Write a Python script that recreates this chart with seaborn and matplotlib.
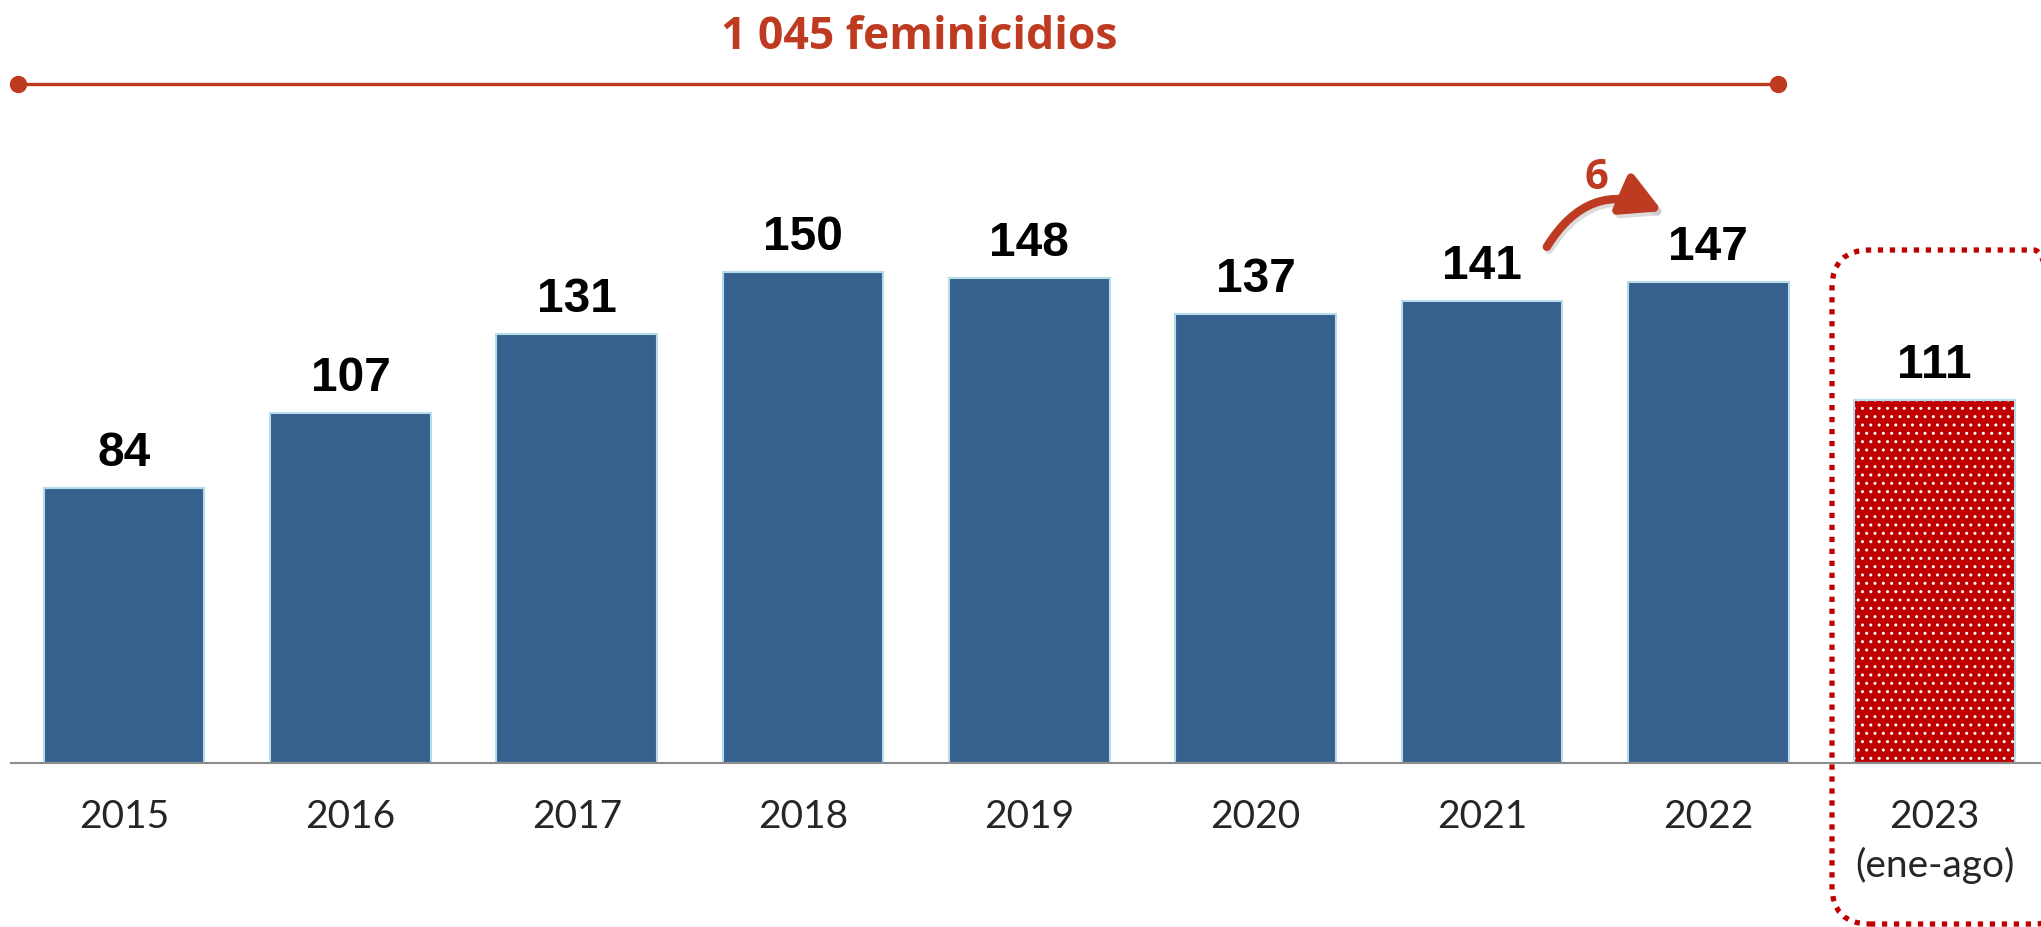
import numpy as np
import pandas as pd
import matplotlib
matplotlib.use('Agg')
import matplotlib.pyplot as plt
from matplotlib.patches import FancyArrowPatch, FancyBboxPatch
from matplotlib.transforms import IdentityTransform
import seaborn as sb

#-----------------------------------------------------------------------------------------------------------
# data
#-----------------------------------------------------------------------------------------------------------
years = ['2015', '2016', '2017', '2018', '2019', '2020', '2021', '2022', '2023']
tick_labels = ['2015', '2016', '2017', '2018', '2019', '2020', '2021', '2022', '2023\n(ene-ago)']
feminicidios = [84, 107, 131, 150, 148, 137, 141, 147, 111]
total_label = '1 045 feminicidios'
change_label = '6'

df = pd.DataFrame({'year': years, 'value': feminicidios})

blue = '#36618F'
red = '#C00000'
rust = '#BE3A20'

#-----------------------------------------------------------------------------------------------------------
# plot
#-----------------------------------------------------------------------------------------------------------
sb.set_style('white')
fig = plt.figure(figsize=(20.41, 9.27), dpi=100)
ax = fig.add_axes([11/2041, 164/927, 1 - 11/2041, 1 - 164/927])

colors = [blue]*8 + [red]
sb.barplot(data=df, x='year', y='value', hue='year', palette=colors, legend=False,
           width=0.71, ax=ax, saturation=1, edgecolor='#B5DCE8', linewidth=1.5)

# dotted pattern on the last bar
last = ax.patches[-1]
last.set_hatch('..')
last.set_edgecolor('white')
last.set_linewidth(0)
ax.bar(8, feminicidios[-1], width=0.71, facecolor='none', edgecolor='#B5DCE8', linewidth=1.5)

ax.set_xlim(-0.5, 8.47)
ax.set_ylim(0, 233)
ax.set_yticks([])
ax.set_ylabel('')
ax.set_xlabel('')
for s in ['top', 'left', 'right']:
    ax.spines[s].set_visible(False)
ax.spines['bottom'].set_color('#8C8C8C')
ax.spines['bottom'].set_linewidth(1.5)
ax.set_xticks(range(len(years)))
ax.set_xticklabels(tick_labels, fontsize=28, family=['Lato', 'DejaVu Sans'], linespacing=1.4)
ax.tick_params(axis='x', length=0, pad=26)

for i, v in enumerate(feminicidios):
    ax.text(i, v + 6.7, str(v), ha='center', va='baseline', fontsize=34.5, fontweight='bold',
            family=['Liberation Sans', 'DejaVu Sans'], color='black')

# total span line
ax.plot([-0.47, 7.31], [207.3, 207.3], color=rust, lw=2.4, clip_on=False)
ax.plot([-0.47, 7.31], [207.3, 207.3], 'o', color=rust, ms=11.5, clip_on=False)
ax.text(3.515, 218, total_label, ha='center', va='baseline', fontsize=32, fontweight='bold',
        color=rust, family=['Open Sans', 'DejaVu Sans'])

# change arrow 2021 -> 2022
arrow_style = '-|>,head_length=12,head_width=6.5'
shadow = FancyArrowPatch((6.29, 156.0), (6.82, 167.0), connectionstyle='arc3,rad=-0.45',
                         arrowstyle=arrow_style, color='#BBBBBB', lw=6,
                         mutation_scale=2, clip_on=False, alpha=0.5)
ax.add_patch(shadow)
arr = FancyArrowPatch((6.28, 156.9), (6.807, 168.2), connectionstyle='arc3,rad=-0.45',
                      arrowstyle=arrow_style, color=rust, lw=6,
                      mutation_scale=2, clip_on=False)
ax.add_patch(arr)
ax.text(6.507, 175.2, change_label, ha='center', va='baseline', fontsize=30, fontweight='bold',
        color=rust, family=['Open Sans', 'DejaVu Sans'])

# dotted rounded box round 2023
box = FancyBboxPatch((1832, 3), 240, 674,
                     boxstyle='round,pad=0,rounding_size=38', transform=IdentityTransform(),
                     facecolor='none', edgecolor=red, lw=3.8, linestyle=(0, (1.0, 1.27)),
                     capstyle='butt')
fig.patches.append(box)

plt.savefig('out.png', dpi=100)
